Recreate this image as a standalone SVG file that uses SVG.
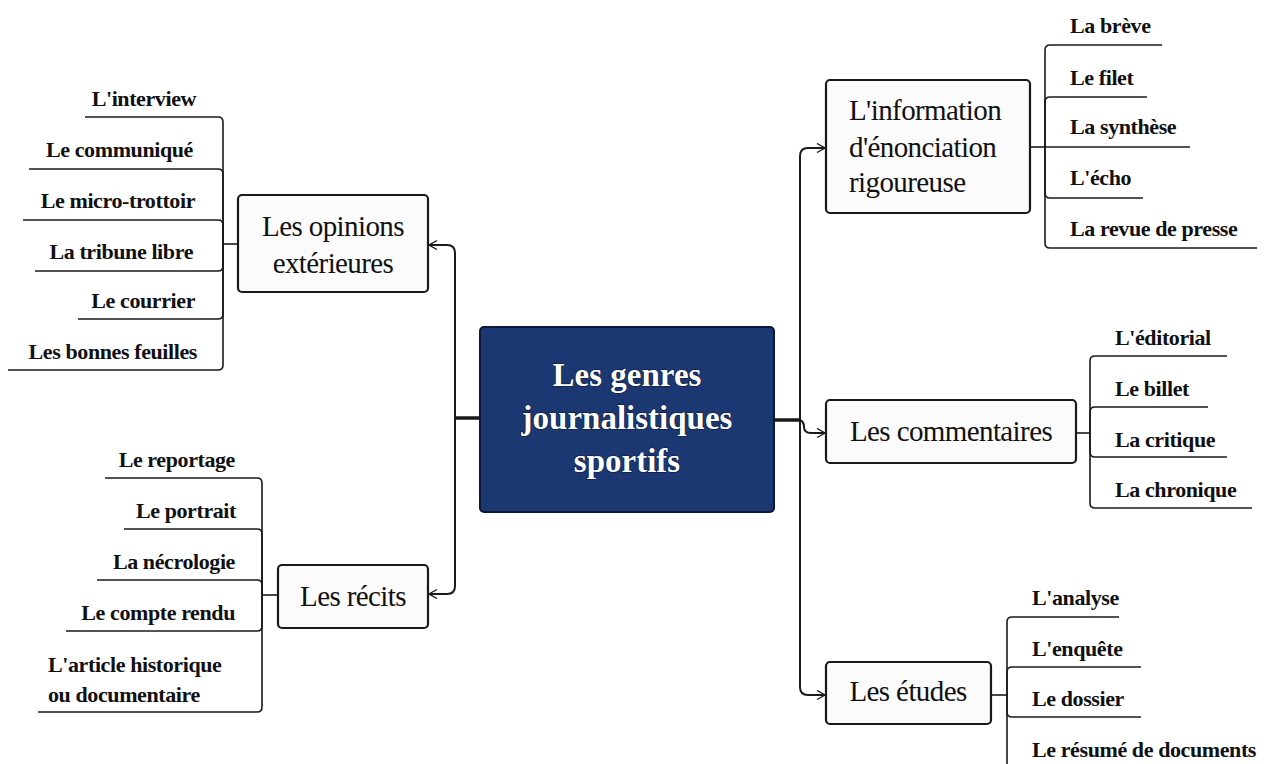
<svg xmlns="http://www.w3.org/2000/svg" width="1272" height="764" viewBox="0 0 1272 764">
<style>
.node{fill:#fbfbfb;stroke:#1a1a1a;stroke-width:2.2}
.center{fill:#1c3872;stroke:#0b1838;stroke-width:2}
.nt{font-family:"Liberation Serif",serif;font-size:29px;letter-spacing:-0.6px;fill:#111;text-anchor:middle}
.ct{font-family:"Liberation Serif",serif;font-size:33px;font-weight:bold;fill:#fff;text-anchor:middle;stroke:#0a1530;stroke-width:1.2;paint-order:stroke}
.lt{font-family:"Liberation Serif",serif;font-size:22px;letter-spacing:-0.4px;font-weight:bold;fill:#111}
.r{text-anchor:end}
.ln{fill:none;stroke:#1a1a1a;stroke-width:1.6}
.tr{fill:none;stroke:#1a1a1a;stroke-width:2}
.thick{fill:none;stroke:#1a1a1a;stroke-width:3.5}
</style>
<defs>
<marker id="arr" markerUnits="userSpaceOnUse" markerWidth="12" markerHeight="12" refX="9" refY="5" orient="auto">
<path d="M1,0.5 L9,5 L1,9.5" fill="none" stroke="#1a1a1a" stroke-width="1.4"/>
</marker>
</defs>
<rect width="1272" height="764" fill="#fff"/>
<g id="connectors">
<path class="thick" d="M480,418 H455"/>
<path class="tr" d="M455,418 V253 Q455,245 447,245 H429" marker-end="url(#arr)"/>
<path class="tr" d="M455,418 V586 Q455,594 447,594 H429" marker-end="url(#arr)"/>
<path class="thick" d="M774,420 H800"/>
<path class="tr" d="M800,420 V156 Q800,148 808,148 H825" marker-end="url(#arr)"/>
<path class="tr" d="M798,420 Q804,420 804,427 Q804,433 811,433 H825" marker-end="url(#arr)"/>
<path class="tr" d="M800,420 V687 Q800,695 808,695 H825" marker-end="url(#arr)"/>
<path class="ln" d="M238,244 H223"/>
<path class="ln" d="M223,244 V122 Q223,117 218,117 H85"/>
<path class="ln" d="M223,244 V174 Q223,169 218,169 H29"/>
<path class="ln" d="M223,244 V225 Q223,220 218,220 H23"/>
<path class="ln" d="M223,244 V266 Q223,271 218,271 H35"/>
<path class="ln" d="M223,244 V314 Q223,319 218,319 H78"/>
<path class="ln" d="M223,244 V365 Q223,370 218,370 H8"/>
<path class="ln" d="M278,595 H262"/>
<path class="ln" d="M262,595 V483 Q262,478 257,478 H105"/>
<path class="ln" d="M262,595 V534 Q262,529 257,529 H124"/>
<path class="ln" d="M262,595 V585 Q262,580 257,580 H97"/>
<path class="ln" d="M262,595 V626 Q262,631 257,631 H66"/>
<path class="ln" d="M262,595 V707 Q262,712 257,712 H38"/>
<path class="ln" d="M1030,147 H1045"/>
<path class="ln" d="M1045,147 V50 Q1045,45 1050,45 H1162"/>
<path class="ln" d="M1045,147 V102 Q1045,97 1050,97 H1147"/>
<path class="ln" d="M1045,147 H1190"/>
<path class="ln" d="M1045,147 V193 Q1045,198 1050,198 H1143"/>
<path class="ln" d="M1045,147 V243 Q1045,248 1050,248 H1257"/>
<path class="ln" d="M1076,433 H1090"/>
<path class="ln" d="M1090,433 V361 Q1090,356 1095,356 H1227"/>
<path class="ln" d="M1090,433 V412 Q1090,407 1095,407 H1208"/>
<path class="ln" d="M1090,433 V452 Q1090,457 1095,457 H1227"/>
<path class="ln" d="M1090,433 V503 Q1090,508 1095,508 H1252"/>
<path class="ln" d="M991,695 H1007"/>
<path class="ln" d="M1007,695 V622 Q1007,617 1012,617 H1119"/>
<path class="ln" d="M1007,695 V672 Q1007,667 1012,667 H1141"/>
<path class="ln" d="M1007,695 V712 Q1007,717 1012,717 H1141"/>
<path class="ln" d="M1007,695 V764"/>
</g>
<g id="center">
<rect class="center" x="480" y="327" width="294" height="185" rx="4"/>
<text class="ct" x="627" y="386">Les genres</text>
<text class="ct" x="627" y="429">journalistiques</text>
<text class="ct" x="627" y="472">sportifs</text>
</g>
<g id="opinions">
<rect class="node" x="238" y="195" width="190" height="97" rx="4"/>
<text class="nt" x="333" y="236">Les opinions</text>
<text class="nt" x="333" y="273">extérieures</text>
</g>
<g id="recits">
<rect class="node" x="278" y="565" width="150" height="63" rx="4"/>
<text class="nt" x="353" y="606">Les récits</text>
</g>
<g id="information">
<rect class="node" x="826" y="80" width="204" height="133" rx="4"/>
<text class="nt" x="849" y="120" style="text-anchor:start">L'information</text>
<text class="nt" x="849" y="157" style="text-anchor:start">d'énonciation</text>
<text class="nt" x="849" y="192" style="text-anchor:start">rigoureuse</text>
</g>
<g id="commentaires">
<rect class="node" x="826" y="400" width="250" height="63" rx="4"/>
<text class="nt" x="951" y="441">Les commentaires</text>
</g>
<g id="etudes">
<rect class="node" x="826" y="662" width="165" height="62" rx="4"/>
<text class="nt" x="908" y="701">Les études</text>
</g>
<g id="opinions-children">
<text class="lt r" x="196" y="106">L'interview</text>
<text class="lt r" x="193" y="157">Le communiqué</text>
<text class="lt r" x="195" y="208">Le micro-trottoir</text>
<text class="lt r" x="193" y="259">La tribune libre</text>
<text class="lt r" x="195" y="308">Le courrier</text>
<text class="lt r" x="197" y="359">Les bonnes feuilles</text>
</g>
<g id="recits-children">
<text class="lt r" x="235" y="467">Le reportage</text>
<text class="lt r" x="236" y="518">Le portrait</text>
<text class="lt r" x="235" y="569">La nécrologie</text>
<text class="lt r" x="235" y="620">Le compte rendu</text>
<text class="lt" x="48" y="672">L'article historique</text>
<text class="lt" x="48" y="702">ou documentaire</text>
</g>
<g id="information-children">
<text class="lt" x="1070" y="33">La brève</text>
<text class="lt" x="1070" y="85">Le filet</text>
<text class="lt" x="1070" y="134">La synthèse</text>
<text class="lt" x="1070" y="185">L'écho</text>
<text class="lt" x="1070" y="236">La revue de presse</text>
</g>
<g id="commentaires-children">
<text class="lt" x="1115" y="345">L'éditorial</text>
<text class="lt" x="1115" y="396">Le billet</text>
<text class="lt" x="1115" y="447">La critique</text>
<text class="lt" x="1115" y="497">La chronique</text>
</g>
<g id="etudes-children">
<text class="lt" x="1032" y="605">L'analyse</text>
<text class="lt" x="1032" y="656">L'enquête</text>
<text class="lt" x="1032" y="706">Le dossier</text>
<text class="lt" x="1032" y="757">Le résumé de documents</text>
</g>
</svg>
